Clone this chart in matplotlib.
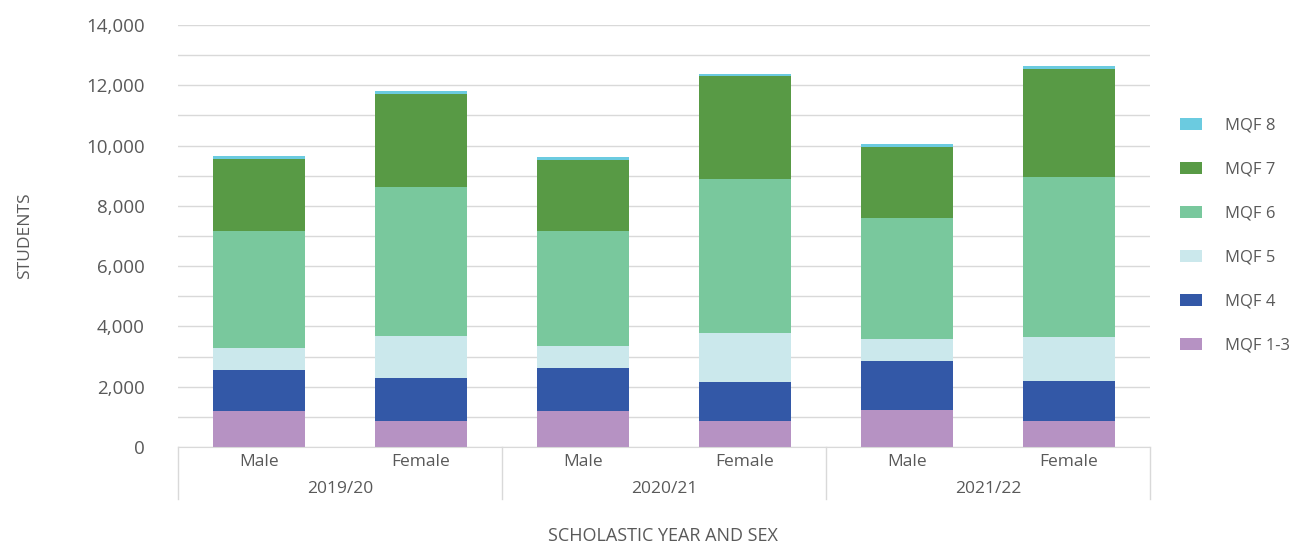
import matplotlib
matplotlib.use("Agg")
import matplotlib.pyplot as plt
from matplotlib.patches import Patch
import numpy as np

plt.rcParams['font.family'] = ['Open Sans', 'DejaVu Sans']

years = ["2019/20", "2020/21", "2021/22"]
sexes = ["Male", "Female"]
series = ["MQF 1-3", "MQF 4", "MQF 5", "MQF 6", "MQF 7", "MQF 8"]
colors = ["#B692C3", "#3358A7", "#CBE8EC", "#79C89D", "#589A45", "#6BCBE0"]

# order: 2019 M, 2019 F, 2020 M, 2020 F, 2021 M, 2021 F
mqf13 = [1190, 856, 1189, 856, 1244, 856]
mqf4 = [1377, 1433, 1433, 1300, 1612, 1333]
mqf5 = [711, 1389, 734, 1611, 711, 1444]
mqf6 = [3878, 4944, 3800, 5122, 4033, 5311]
mqf7 = [2400, 3089, 2355, 3411, 2367, 3589]
mqf8 = [100, 111, 100, 89, 100, 123]
values = [mqf13, mqf4, mqf5, mqf6, mqf7, mqf8]

W, H = 1291, 544
fig = plt.figure(figsize=(W / 100, H / 100), dpi=100)
ax = fig.add_axes([178 / W, 1 - 447 / H, (1150 - 178) / W, (447 - 25) / H])

x = np.arange(6)
bottom = np.zeros(6)
for name, vals, c in zip(series, values, colors):
    ax.bar(x, vals, bottom=bottom, width=0.57, color=c, label=name, zorder=3)
    bottom += np.array(vals)

ax.set_xlim(-0.5, 5.5)
ax.set_ylim(0, 14000)
ax.set_yticks(np.arange(0, 14001, 2000))
ax.set_yticks(np.arange(0, 14001, 1000), minor=True)
ax.set_yticklabels([f"{v:,}" for v in range(0, 14001, 2000)], fontsize=13.5, color="#595959")
ax.tick_params(axis='y', which='both', length=0, pad=24)
ax.grid(axis='y', which='both', color="#D9D9D9", linewidth=1, zorder=0)
ax.set_xticks([])
for s in ["top", "right", "left"]:
    ax.spines[s].set_visible(False)
ax.spines["bottom"].set_color("#D9D9D9")
ax.spines["bottom"].set_zorder(4)

trans = ax.get_xaxis_transform()
row1 = -(462 - 447) / 422
row2 = -(489 - 447) / 422
sep_bottom = -(499 - 447) / 422
for i, xi in enumerate(x):
    ax.text(xi, row1, sexes[i % 2], transform=trans, ha='center', va='center',
            fontsize=12.5, color="#595959")
for g, yr in enumerate(years):
    ax.text(2 * g + 0.5, row2, yr, transform=trans, ha='center', va='center',
            fontsize=12.5, color="#595959")
for xs in [-0.5, 1.5, 3.5, 5.5]:
    ax.plot([xs, xs], [0, sep_bottom], transform=trans, color="#D9D9D9",
            linewidth=1, clip_on=False)

fig.text(663 / W, 1 - 536 / H, "SCHOLASTIC YEAR AND SEX", ha='center', va='center',
         fontsize=13, color="#595959")
fig.text(25 / W, 1 - 236 / H, "STUDENTS", ha='center', va='center', rotation=90,
         fontsize=12.5, color="#595959")

handles = [Patch(facecolor=c, label=n) for n, c in zip(series, colors)][::-1]
leg = fig.legend(handles=handles, loc='center left', bbox_to_anchor=(1180 / W, 1 - 236 / H),
                 frameon=False, fontsize=12, labelspacing=1.68, handlelength=1.32,
                 handleheight=0.72, handletextpad=1.38, borderpad=0, borderaxespad=0)
for t in leg.get_texts():
    t.set_color("#595959")

fig.savefig("out.png", dpi=100)
